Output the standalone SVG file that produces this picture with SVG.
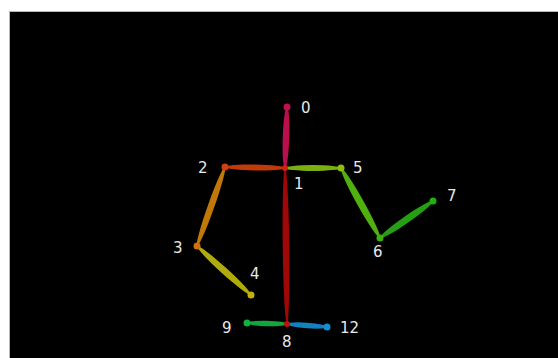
<svg xmlns="http://www.w3.org/2000/svg" width="558" height="358" viewBox="0 0 558 358">
<style>
.lbl{font-family:"DejaVu Sans",sans-serif;font-size:15px;fill:#e8e8e8}
.j{stroke:none}
</style>
<rect x="0" y="0" width="558" height="358" fill="#ffffff"/>
<rect x="9.5" y="11.5" width="560" height="360" fill="#000000" stroke="#b8b8b8" stroke-width="1"/>
<g id="connectors">
<ellipse cx="286" cy="137.5" rx="30.5" ry="3.3" transform="rotate(91.9 286 137.5)" fill="#b8104c"/>
<ellipse cx="255" cy="167.5" rx="30" ry="3" transform="rotate(0.95 255 167.5)" fill="#c03a0c"/>
<ellipse cx="313" cy="168" rx="28" ry="3" fill="#7cb010"/>
<ellipse cx="211" cy="206.5" rx="41.9" ry="3.3" transform="rotate(109.5 211 206.5)" fill="#c07808"/>
<ellipse cx="224" cy="270.5" rx="36.4" ry="3.3" transform="rotate(42.2 224 270.5)" fill="#b0aa0c"/>
<ellipse cx="360.5" cy="203" rx="40" ry="3.5" transform="rotate(60.9 360.5 203)" fill="#50b010"/>
<ellipse cx="406.5" cy="219.5" rx="32.3" ry="3.5" transform="rotate(-34.9 406.5 219.5)" fill="#24a012"/>
<ellipse cx="286" cy="246" rx="78" ry="3.3" transform="rotate(89.3 286 246)" fill="#a00808"/>
<ellipse cx="267" cy="323.5" rx="20" ry="2.8" transform="rotate(1.4 267 323.5)" fill="#10a83c"/>
<ellipse cx="307" cy="325.5" rx="20" ry="2.8" transform="rotate(4.3 307 325.5)" fill="#1480c0"/>
</g>
<g id="node-0"><circle class="j" cx="287" cy="107" r="3.5" fill="#c01050"/><text class="lbl" x="301" y="113">0</text></g>
<g id="node-1"><circle class="j" cx="285" cy="168" r="3" fill="#d02010"/><text class="lbl" x="294" y="189">1</text></g>
<g id="node-2"><circle class="j" cx="225" cy="167" r="3.5" fill="#d04010"/><text class="lbl" x="198" y="173">2</text></g>
<g id="node-3"><circle class="j" cx="197" cy="246" r="3.5" fill="#d07010"/><text class="lbl" x="173" y="253">3</text></g>
<g id="node-4"><circle class="j" cx="251" cy="295" r="3.5" fill="#c0b010"/><text class="lbl" x="250" y="279">4</text></g>
<g id="node-5"><circle class="j" cx="341" cy="168" r="3.5" fill="#8cc010"/><text class="lbl" x="353" y="173">5</text></g>
<g id="node-6"><circle class="j" cx="380" cy="238" r="3.5" fill="#40b010"/><text class="lbl" x="373" y="257">6</text></g>
<g id="node-7"><circle class="j" cx="433" cy="201" r="3.5" fill="#20b010"/><text class="lbl" x="447" y="201">7</text></g>
<g id="node-8"><circle class="j" cx="287" cy="324" r="3" fill="#c01010"/><text class="lbl" x="282" y="347">8</text></g>
<g id="node-9"><circle class="j" cx="247" cy="323" r="3.5" fill="#10b040"/><text class="lbl" x="222" y="333">9</text></g>
<g id="node-12"><circle class="j" cx="327" cy="327" r="3.5" fill="#1090d0"/><text class="lbl" x="340" y="333">12</text></g>
</svg>
